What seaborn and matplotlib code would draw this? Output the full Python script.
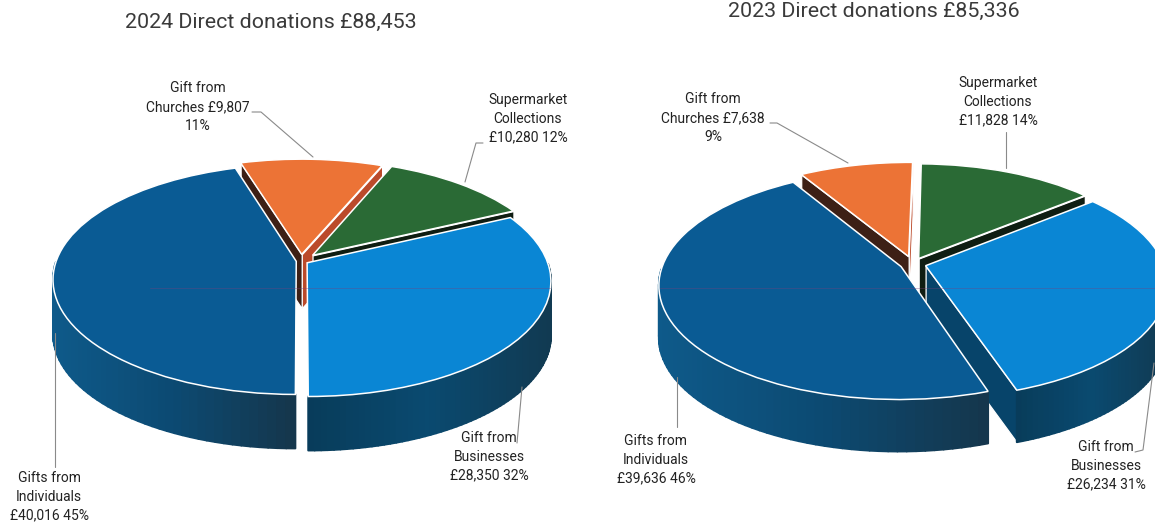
import numpy as np
import matplotlib
matplotlib.use("Agg")
import matplotlib.pyplot as plt
import seaborn as sns
from matplotlib.collections import PolyCollection
from matplotlib.colors import LinearSegmentedColormap
from matplotlib.transforms import Transform

# order is counter clockwise from the first slice
categories = ["Businesses", "Supermarket", "Churches", "Individuals"]
values_2024 = [28350, 10280, 9807, 40016]
values_2023 = [26234, 11828, 7638, 39636]

labels_2024 = ["Gift from\nBusinesses\n£28,350 32%",
               "Supermarket\nCollections\n£10,280 12%",
               "Gift from\nChurches £9,807\n11%",
               "Gifts from\nIndividuals\n£40,016 45%"]
labels_2023 = ["Gift from\nBusinesses\n£26,234 31%",
               "Supermarket\nCollections\n£11,828 14%",
               "Gift from\nChurches £7,638\n9%",
               "Gifts from\nIndividuals\n£39,636 46%"]

title_2024 = "2024 Direct donations £88,453"
title_2023 = "2023 Direct donations £85,336"

# styles
top_colors = ["#0a86d4", "#2a6a35", "#ec7336", "#0a5b94"]
# start edge / end edge colour of the cut faces
face_colors = [("#07446a", "#07446a"), ("#0f1d12", "#0f1d12"),
               ("#bb4a2a", "#3d2016"), ("#0a4468", "#0a4468")]
wall_colors = [["#083c5a", "#0a4a70", "#113a52"], ["#123a1c"] * 2,
               ["#7a3010"] * 2, ["#0e5a8a", "#0c4a72", "#15364c"]]
LINE = "#8a8a8a"
FONT = ["Roboto", "DejaVu Sans"]
K, A = 0.157, 0.467


class Tilt(Transform):
    """Lays the unit pie on a table: far side shrinks, near side grows."""
    input_dims = 2
    output_dims = 2
    has_inverse = False

    def __init__(self, cx, cy, r):
        super().__init__()
        self.cx, self.cy, self.r = cx, cy, r

    def transform_non_affine(self, xy):
        xy = np.asarray(xy, dtype=float)
        w = 1 + K * xy[:, 1]
        return np.column_stack([self.cx + self.r * xy[:, 0] / w,
                                self.cy - self.r * A * xy[:, 1] / w])


def draw_pie(ax, values, startangle, explode, cx, cy, r, depth):
    tilt = Tilt(cx, cy, r)
    wedges, _ = ax.pie(values, startangle=startangle, explode=explode, radius=1,
                       colors=top_colors, counterclock=True,
                       wedgeprops={"edgecolor": "white", "linewidth": 1.1})
    for w in wedges:
        w.set_transform(tilt + ax.transData)
        w.set_zorder(50)

    # walls, far slices first so nearer ones paint over them
    mids = [np.sin(np.radians((w.theta1 + w.theta2) / 2)) for w in wedges]
    for z, i in enumerate(np.argsort(mids)[::-1]):
        w = wedges[i]
        t1, t2 = w.theta1, w.theta2
        center = np.array(w.center)
        apex = tilt.transform_non_affine(center[None, :])[0]

        # straight cut faces
        for t, col, show in [(t1, face_colors[i][0], np.cos(np.radians(t1)) > 0.01),
                             (t2, face_colors[i][1], np.cos(np.radians(t2)) < -0.01)]:
            if not show:
                continue
            rim = center + [np.cos(np.radians(t)), np.sin(np.radians(t))]
            corner = tilt.transform_non_affine(rim[None, :])[0]
            quad = [apex, corner, corner + [0, depth], apex + [0, depth]]
            ax.add_collection(PolyCollection([quad], facecolors=col, edgecolors="white",
                                             linewidths=0.9, zorder=10 + z))

        # curved outer wall, shaded left to right
        angles = np.radians(np.linspace(t1, t2, 90))
        rim = center + np.column_stack([np.cos(angles), np.sin(angles)])
        pts = tilt.transform_non_affine(rim)
        front = np.sin(angles) < 0
        cmap = LinearSegmentedColormap.from_list("wall", wall_colors[i])
        if front.sum() < 2:
            continue
        x0, x1 = pts[front, 0].min(), pts[front, 0].max()
        quads, cols = [], []
        for a, b, fa, fb in zip(pts[:-1], pts[1:], front[:-1], front[1:]):
            if fa and fb:
                quads.append([a, b, b + [0, depth], a + [0, depth]])
                cols.append(cmap(((a[0] + b[0]) / 2 - x0) / (x1 - x0)))
        ax.add_collection(PolyCollection(quads, facecolors=cols, edgecolors=cols,
                                         linewidths=1.4, zorder=10 + z + 0.5))


sns.set_theme(style="white")
plt.rcParams["font.family"] = FONT

fig = plt.figure(figsize=(11.55, 5.24), dpi=100, facecolor="white")
ax = fig.add_axes([0, 0, 1, 1])

draw_pie(ax, values_2024, -90, [0.03, 0.07, 0.06, 0.02], 301, 261, 240, 54)
draw_pie(ax, values_2023, -71.5, [0.055, 0.055, 0.07, 0.055], 913, 264, 238, 52)

ax.set_aspect("auto")
ax.set_xlim(0, 1155)
ax.set_ylim(524, 0)
ax.axis("off")

# faint line through both pies
ax.plot([150, 550], [288, 288], color="#7a3f7a", lw=0.7, alpha=0.35, zorder=55)
ax.plot([660, 1155], [288, 288], color="#7a3f7a", lw=0.7, alpha=0.35, zorder=55)

# titles
ax.text(271, 22, title_2024, ha="center", va="center", fontsize=15.4, color="#3a3a3a")
ax.text(874, 11, title_2023, ha="center", va="center", fontsize=15.4, color="#3a3a3a")

# slice labels, same order as the values
pos_2024 = [(489, 457), (528, 119), (198, 107), (49, 497)]
pos_2023 = [(1106, 466), (998, 102), (713, 118), (656, 460)]
for txt, (x, y) in zip(labels_2024 + labels_2023, pos_2024 + pos_2023):
    ax.text(x, y, txt, ha="center", va="center", fontsize=10, color="#222222",
            linespacing=1.43, zorder=70)

leaders = [[(517, 443), (522, 387)],
           [(483, 143), (476, 143), (465, 182)],
           [(252, 112), (261, 112), (313, 157)],
           [(55, 467), (55, 333)],
           [(1135, 452), (1143, 450), (1154, 363)],
           [(1006, 132), (1006, 168)],
           [(770, 123), (777, 123), (848, 163)],
           [(677, 427), (677, 377)]]
for line in leaders:
    xs, ys = zip(*line)
    ax.plot(xs, ys, color=LINE, lw=0.8, zorder=60)

fig.savefig("out.png", dpi=100)
